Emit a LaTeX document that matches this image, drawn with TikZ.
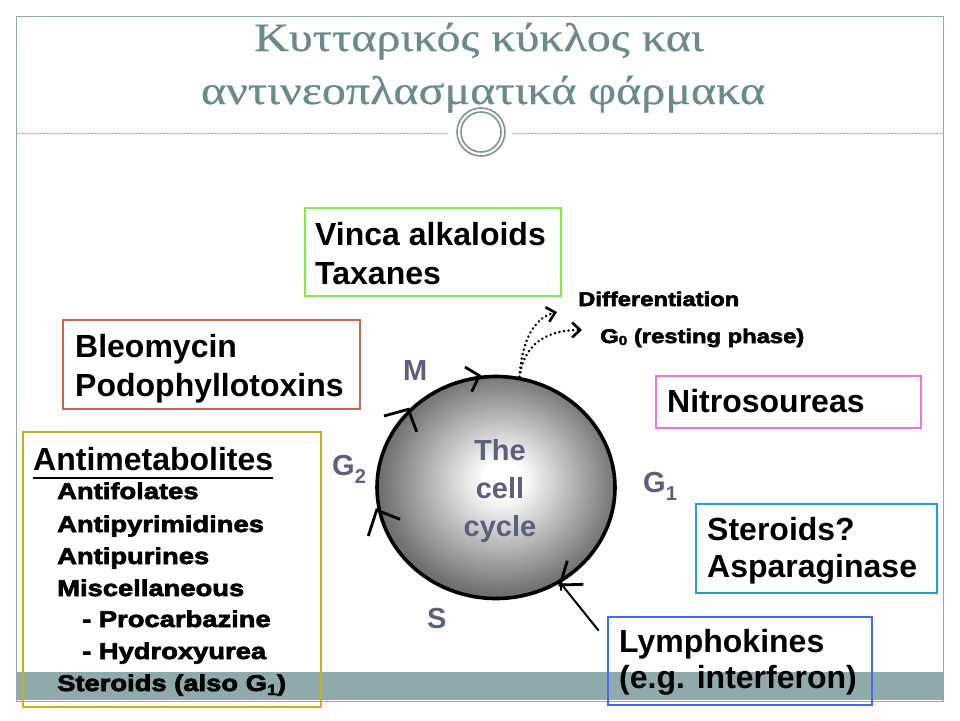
\documentclass[tikz,border=0pt]{standalone}
\usepackage{fontspec}
\setmainfont{Liberation Sans}
\newfontfamily\titlefam[FakeStretch=1.2,FakeBold=0.6]{Liberation Serif}
\newfontfamily\heavyfam[FakeStretch=1.2,FakeBold=3]{Liberation Sans Bold}
\usetikzlibrary{shapes.geometric,arrows.meta,calc}
\definecolor{framegray}{RGB}{150,168,168}
\definecolor{bandcol}{RGB}{142,170,170}
\definecolor{titlecol}{RGB}{108,138,138}
\definecolor{orncol}{RGB}{128,148,148}
\definecolor{vincacol}{RGB}{120,240,70}
\definecolor{bleocol}{RGB}{205,100,75}
\definecolor{nitrocol}{RGB}{240,110,240}
\definecolor{stercol}{RGB}{30,160,210}
\definecolor{lymphcol}{RGB}{60,110,240}
\definecolor{antimcol}{RGB}{205,175,30}
\definecolor{phasecol}{RGB}{90,96,125}
\definecolor{shadegray}{RGB}{112,112,112}
\pgfdeclareradialshading{cellshade}{\pgfpoint{1.5bp}{2bp}}{color(0bp)=(white); color(4bp)=(white); color(25bp)=(shadegray); color(50bp)=(shadegray)}
\newcommand\boxfnt{\fontsize{32}{38}\selectfont\bfseries}
\newcommand\itemfnt{\heavyfam\fontsize{22.8}{26}\selectfont}
\newcommand\smallheavy{\heavyfam\fontsize{19.8}{22}\selectfont}
\newcommand\phasefnt{\fontsize{29}{34}\selectfont\bfseries}
\tikzset{
  boxframe/.style={draw=#1, line width=2.6pt, inner sep=0pt, rectangle},
  lbl/.style={anchor=base west, inner sep=0pt, font=\boxfnt},
  itemtxt/.style={anchor=base west, inner sep=0pt, font=\itemfnt},
  smalltxt/.style={anchor=base west, inner sep=0pt, font=\smallheavy},
  phase/.style={anchor=base west, inner sep=0pt, text=phasecol, font=\phasefnt},
  cyctxt/.style={anchor=base, inner sep=0pt, text=phasecol, font=\phasefnt},
  titletxt/.style={anchor=base, inner sep=0pt, text=titlecol, font={\titlefam\fontsize{40}{48}\selectfont}},
  chev/.style={line width=2.8pt, line join=miter},
  dotline/.style={line width=2.8pt, dash pattern=on 0.01pt off 4.6pt, line cap=round},
  dottip/.style={-{Straight Barb[length=8pt,width=15pt,line width=2.6pt]}},
}
\begin{document}
\begin{tikzpicture}[x=1pt,y=-1pt]
\useasboundingbox (0,0) rectangle (960,720);
\fill[white] (0,0) rectangle (960,720);
% slide frame and band
\fill[bandcol] (16,672) rectangle (943,700);
\draw[framegray, line width=1pt] (16,16) rectangle (943,701);
% title
\node[titletxt] (t1) at (479,51) {Κυτταρικός κύκλος και};
\node[titletxt] (t2) at (483,104) {αντινεοπλασματικά φάρμακα};
% separator
\draw[framegray, line width=0.9pt, dash pattern=on 2pt off 1pt] (16,133) -- (447,133);
\draw[framegray, line width=0.9pt, dash pattern=on 2pt off 1pt] (513,133) -- (943,133);
\node[circle, draw=orncol, line width=1.6pt, minimum size=48pt, inner sep=0pt] (orn1) at (481,132) {};
\node[circle, draw=orncol, line width=1.6pt, minimum size=40pt, inner sep=0pt] (orn2) at (481,132) {};
% cell cycle
\node[ellipse, draw=black, line width=3.6pt, minimum width=238pt, minimum height=222pt, inner sep=0pt,
      shading=cellshade] (cyc) at (496,487.5) {};
\node[cyctxt] (cc1) at (500,460) {The};
\node[cyctxt] (cc2) at (500,498) {cell};
\node[cyctxt] (cc3) at (500,536) {cycle};
% chevrons on the circle
\draw[chev] (465,367) -- (479.3,375.7) -- (471.7,391.7);
\draw[chev] (384,416) -- (408.3,409.3) -- (416.7,431.7);
\draw[chev] (368.3,536) -- (376.7,510) -- (400,519.3);
\draw[chev] (567.3,560.7) -- (560,585) -- (583.3,584.3);
% phase labels
\node[phase] (lm) at (403,380) {M};
\node[phase] (lg2) at (332,475) {G\raisebox{-8pt}{\fontsize{20}{20}\selectfont 2}};
\node[phase] (lg1) at (643,492) {G\raisebox{-8pt}{\fontsize{20}{20}\selectfont 1}};
\node[phase] (ls) at (427,628) {S};
% differentiation / G0
\node[smalltxt] (diff) at (578,306) {Differentiation};
\node[smalltxt] (gzero) at (600,343) {G\raisebox{-2pt}{\fontsize{13}{13}\selectfont 0} (resting phase)};
\coordinate (diffend) at (557,312);
\coordinate (gzeroend) at (582,330);
\draw[dotline, dottip] (cyc.78) .. controls (522,340) and (534,318) .. (diffend);
\draw[dotline, dottip] (cyc.78) .. controls (523,350) and (540,330) .. (gzeroend);
% boxes
\node[boxframe=vincacol, minimum width=256pt, minimum height=88pt] (vinca) at (433,252) {};
\node[lbl] (vinca1) at (315,245) {Vinca alkaloids};
\node[lbl] (vinca2) at (315,284) {Taxanes};
\node[boxframe=bleocol, minimum width=297pt, minimum height=89pt] (bleo) at (211.5,364.5) {};
\node[lbl] (bleo1) at (75,357) {Bleomycin};
\node[lbl] (bleo2) at (75,396) {Podophyllotoxins};
\node[boxframe=nitrocol, minimum width=265pt, minimum height=52pt] (nitro) at (788.5,402) {};
\node[lbl] (nitro1) at (667,412) {Nitrosoureas};
\node[boxframe=stercol, minimum width=241pt, minimum height=89pt] (ster) at (816.5,548.5) {};
\node[lbl] (ster1) at (707,540) {Steroids?};
\node[lbl] (ster2) at (707,577) {Asparaginase};
\node[boxframe=lymphcol, minimum width=264pt, minimum height=88pt] (lymph) at (740,661) {};
\node[lbl] (lymph1) at (619,652) {Lymphokines};
\node[lbl] (lymph2) at (619,688) {(e.g. interferon)};
\coordinate (lystart) at ($(lymph.north west)+(-8,15)$);
\draw[line width=2pt, -{Straight Barb[length=5pt,width=9pt,line width=1.8pt]}] (lystart) -- (cyc.-56);
% antimetabolites
\node[boxframe=antimcol, minimum width=298pt, minimum height=275pt] (antim) at (172,569.5) {};
\node[lbl] (am0) at (33,470) {Antimetabolites};
\draw[line width=2.5pt] ([yshift=-8pt]am0.base west) -- ([yshift=-8pt]am0.base east);
\node[itemtxt] (am1) at (57,499) {Antifolates};
\node[itemtxt] (am2) at (57,532) {Antipyrimidines};
\node[itemtxt] (am3) at (57,564) {Antipurines};
\node[itemtxt] (am4) at (57,596) {Miscellaneous};
\node[itemtxt] (am5) at (82,627) {- Procarbazine};
\node[itemtxt] (am6) at (82,659) {- Hydroxyurea};
\node[itemtxt] (am7) at (57,691) {Steroids (also G\raisebox{-4pt}{\fontsize{15}{15}\selectfont 1})};
\end{tikzpicture}
\end{document}
